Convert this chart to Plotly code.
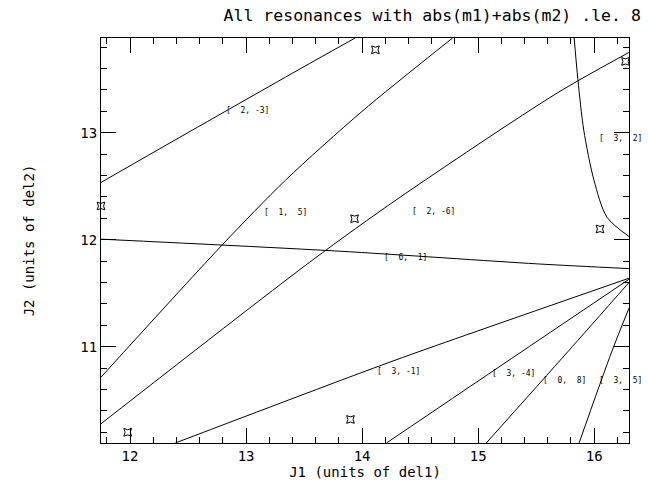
import plotly.graph_objects as go

# ---- data ----
x_range = [11.75, 16.30]
y_range = [10.10, 13.885]
x_ticks = [12, 13, 14, 15, 16]
y_ticks = [11, 12, 13]

# resonance curves (J1, J2) points
res_2m3_j1 = [11.75, 12.24, 13.455, 13.94]
res_2m3_j2 = [12.535, 12.84, 13.59, 13.885]
res_15_j1 = [11.75, 12.796, 13.34, 14.0, 14.78]
res_15_j2 = [10.715, 11.953, 12.556, 13.2, 13.885]
res_2m6_j1 = [11.75, 13.567, 14.31, 15.68, 16.30]
res_2m6_j2 = [10.28, 11.805, 12.384, 13.37, 13.75]
res_61_j1 = [11.75, 13.80, 15.51, 16.30]
res_61_j2 = [12.005, 11.893, 11.774, 11.73]
res_3m1_j1 = [12.39, 13.97, 14.48, 16.30]
res_3m1_j2 = [10.10, 10.748, 10.95, 11.64]
res_3m4_j1 = [14.21, 15.37, 16.30]
res_3m4_j2 = [10.10, 10.95, 11.63]
res_08_j1 = [15.07, 15.77, 16.30]
res_08_j2 = [10.10, 10.95, 11.60]
res_35_j1 = [15.87, 16.15, 16.30]
res_35_j2 = [10.10, 10.95, 11.36]
res_32_j1 = [15.826, 15.86, 15.91, 15.998, 16.11, 16.30]
res_32_j2 = [13.90, 13.494, 13.025, 12.556, 12.21, 12.03]

# star markers
star_j1 = [11.75, 11.98, 14.115, 13.935, 16.27, 16.05, 13.90, 16.14]
star_j2 = [12.315, 10.20, 13.775, 12.196, 13.666, 12.10, 10.32, 10.09]

# resonance labels
lab_m1 = [2, 1, 2, 6, 3, 3, 3, 0, 3]
lab_m2 = [-3, 5, -6, 1, 2, -1, -4, 8, 5]
lab_j1 = [13.01, 13.344, 14.612, 14.376, 16.223, 14.316, 15.306, 15.743, 16.23]
lab_j2 = [13.203, 12.253, 12.265, 11.836, 12.947, 10.767, 10.748, 10.686, 10.68]

FONT = "DejaVu Sans Mono"

fig = go.Figure()
curves = [
    (res_2m3_j1, res_2m3_j2), (res_15_j1, res_15_j2), (res_2m6_j1, res_2m6_j2),
    (res_61_j1, res_61_j2), (res_3m1_j1, res_3m1_j2), (res_3m4_j1, res_3m4_j2),
    (res_08_j1, res_08_j2), (res_35_j1, res_35_j2), (res_32_j1, res_32_j2),
]
for cx, cy in curves:
    fig.add_trace(go.Scatter(x=cx, y=cy, mode="lines",
                             line=dict(color="black", width=1, shape="spline", smoothing=0.8),
                             hoverinfo="skip", showlegend=False))

fig.add_trace(go.Scatter(x=star_j1, y=star_j2, mode="markers",
                         marker=dict(symbol="star-square-open", size=7, color="black",
                                     line=dict(color="black", width=1)),
                         showlegend=False, cliponaxis=False, hoverinfo="skip"))

# labels placed in paper coordinates derived from the data values (so they are not clipped)
for m1, m2, lx, ly in zip(lab_m1, lab_m2, lab_j1, lab_j2):
    px = (lx - x_range[0]) / (x_range[1] - x_range[0])
    py = (ly - y_range[0]) / (y_range[1] - y_range[0])
    fig.add_annotation(x=px, y=py, xref="paper", yref="paper",
                       text="[%3d,%3d]" % (m1, m2), showarrow=False,
                       font=dict(family=FONT, size=8, color="black"),
                       xanchor="center", yanchor="middle")

axis_common = dict(showgrid=False, zeroline=False, showline=True, linecolor="black",
                   linewidth=1, mirror="allticks", ticks="inside", ticklen=15,
                   tickcolor="black", tickwidth=1, automargin=False,
                   tickfont=dict(family=FONT, size=14, color="black"),
                   minor=dict(ticks="inside", ticklen=6, tickcolor="black", tickwidth=1,
                              dtick=0.2, showgrid=False))

fig.update_xaxes(range=x_range, tickvals=x_ticks, ticktext=[str(v) for v in x_ticks],
                 title=dict(text="J1 (units of del1)", font=dict(family=FONT, size=14, color="black"),
                            standoff=0),
                 **axis_common)
fig.update_yaxes(range=y_range, tickvals=y_ticks, ticktext=[str(v) for v in y_ticks],
                 title=dict(text="J2 (units of del2)", font=dict(family=FONT, size=14, color="black"),
                            standoff=42),
                 **axis_common)
fig.update_xaxes(minor=dict(tick0=12))
fig.update_yaxes(minor=dict(tick0=11))

fig.update_layout(
    width=648, height=485,
    margin=dict(l=101, r=19, t=38, b=42),
    paper_bgcolor="white", plot_bgcolor="white",
    title=dict(text="All resonances with abs(m1)+abs(m2) .le. 8",
               font=dict(family=FONT, size=16.5, color="black"),
               x=0.667, xanchor="center", xref="container",
               y=0.969, yanchor="middle", yref="container",
               automargin=False),
    showlegend=False,
)

fig.write_html(
    "out.html",
    config={"displayModeBar": False},
    post_script="document.body.style.margin='0';document.body.style.overflow='hidden';",
)
